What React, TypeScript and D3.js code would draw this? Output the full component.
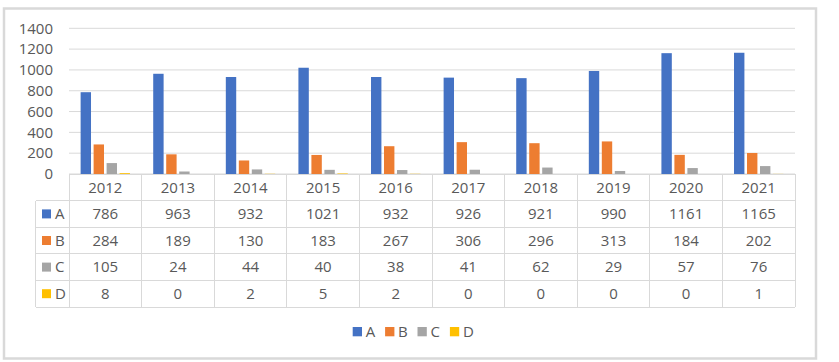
import * as d3 from 'd3'
import React from 'react'

const years = ['2012', '2013', '2014', '2015', '2016', '2017', '2018', '2019', '2020', '2021']
const seriesNames = ['A', 'B', 'C', 'D']
const valuesA = [786, 963, 932, 1021, 932, 926, 921, 990, 1161, 1165]
const valuesB = [284, 189, 130, 183, 267, 306, 296, 313, 184, 202]
const valuesC = [105, 24, 44, 40, 38, 41, 62, 29, 57, 76]
const valuesD = [8, 0, 2, 5, 2, 0, 0, 0, 0, 1]
const yTicks = [0, 200, 400, 600, 800, 1000, 1200, 1400]

const colors = ['#4472C4', '#ED7D31', '#A5A5A5', '#FFC000']
const grid = '#d9d9d9'
const textColor = '#595959'
const font = '"Open Sans", "Liberation Sans", sans-serif'
const fs = 15

const W = 839
const H = 362
const plot = { left: 69, right: 795, top: 28.3, bottom: 174 }
const legendColLeft = 35.7
const rowH = 26.6

const App = () => {
  const series = [valuesA, valuesB, valuesC, valuesD]

  const x = d3.scaleBand().domain(years).range([plot.left, plot.right]).padding(0)
  const bw = x.bandwidth()
  const inner = d3
    .scaleBand()
    .domain(seriesNames)
    .range([bw * 0.16, bw * 0.84])
    .paddingInner(0.2)
    .paddingOuter(0)
  const y = d3.scaleLinear().domain([0, 1400]).range([plot.bottom, plot.top])

  // table rows: header + one per series
  const rowTop = (i: number) => plot.bottom + i * rowH
  const tableBottom = rowTop(seriesNames.length + 1)

  return (
    <svg
      width={W}
      height={H}
      style={{ position: 'absolute', left: 0, top: 0, background: '#fff' }}
      fontFamily={font}
    >
      <rect x={4} y={8.5} width={812} height={350} fill="#fff" stroke={grid} strokeWidth={2.5} />

      {/* gridlines */}
      {yTicks.map((t) => (
        <line key={t} x1={plot.left} x2={plot.right} y1={y(t)} y2={y(t)} stroke={grid} strokeWidth={1} />
      ))}
      {yTicks.map((t) => (
        <text key={'l' + t} x={53} y={y(t)} dy="0.35em" textAnchor="end" fontSize={fs} fill={textColor}>
          {t}
        </text>
      ))}

      {/* bars */}
      {years.map((yr, i) => (
        <g key={yr} transform={`translate(${x(yr)},0)`}>
          {seriesNames.map((s, si) => {
            const v = series[si][i]
            return (
              <rect
                key={s}
                x={inner(s)}
                y={y(v)}
                width={inner.bandwidth()}
                height={plot.bottom - y(v)}
                fill={colors[si]}
              />
            )
          })}
        </g>
      ))}

      {/* data table */}
      <g stroke={grid} strokeWidth={1} shapeRendering="crispEdges">
        <line x1={plot.left} x2={plot.right} y1={rowTop(0)} y2={rowTop(0)} />
        {d3.range(1, seriesNames.length + 2).map((r) => (
          <line key={r} x1={legendColLeft} x2={plot.right} y1={rowTop(r)} y2={rowTop(r)} />
        ))}
        {years.map((yr) => (
          <line key={yr} x1={x(yr)} x2={x(yr)} y1={rowTop(0)} y2={tableBottom} />
        ))}
        <line x1={plot.right} x2={plot.right} y1={rowTop(0)} y2={tableBottom} />
        <line x1={legendColLeft} x2={legendColLeft} y1={rowTop(1)} y2={tableBottom} />
      </g>
      {years.map((yr) => (
        <text
          key={'h' + yr}
          x={(x(yr) as number) + bw / 2}
          y={rowTop(0) + rowH / 2}
          dy="0.35em"
          textAnchor="middle"
          fontSize={fs}
          fill={textColor}
        >
          {yr}
        </text>
      ))}
      {seriesNames.map((s, si) => (
        <g key={'r' + s}>
          <rect x={42} y={rowTop(si + 1) + rowH / 2 - 4.5} width={9} height={9} fill={colors[si]} />
          <text x={55} y={rowTop(si + 1) + rowH / 2} dy="0.35em" fontSize={fs} fill={textColor}>
            {s}
          </text>
          {years.map((yr, i) => (
            <text
              key={yr}
              x={(x(yr) as number) + bw / 2}
              y={rowTop(si + 1) + rowH / 2}
              dy="0.35em"
              textAnchor="middle"
              fontSize={fs}
              fill={textColor}
            >
              {series[si][i]}
            </text>
          ))}
        </g>
      ))}

      {/* legend */}
      {seriesNames.map((s, si) => (
        <g key={'lg' + s} transform={`translate(${352.7 + si * 32.4},331.7)`}>
          <rect x={0} y={-4.7} width={9.3} height={9.3} fill={colors[si]} />
          <text x={13} y={0} dy="0.35em" fontSize={fs} fill={textColor}>
            {s}
          </text>
        </g>
      ))}
    </svg>
  )
}

export default App
